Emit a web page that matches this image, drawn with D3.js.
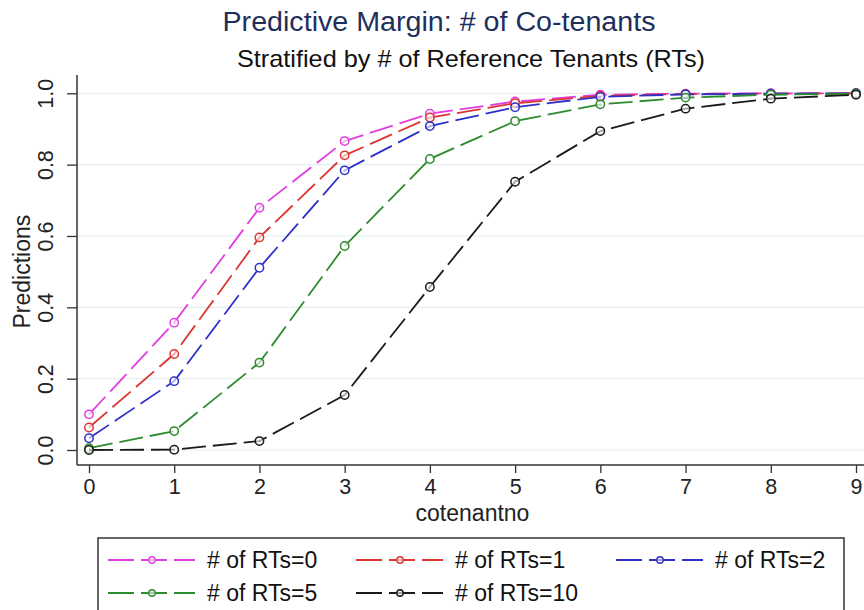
<!DOCTYPE html>
<html><head><meta charset="utf-8">
<script src="https://cdn.jsdelivr.net/npm/d3@7"></script>
<style>html,body{margin:0;padding:0;background:#fff;}svg{display:block;font-family:"Liberation Sans",Arial,sans-serif;}</style>
</head><body>
<script>
const xVals = [0,1,2,3,4,5,6,7,8,9];
const rt0  = [0.100,0.357,0.679,0.866,0.943,0.977,0.996,0.999,1.000,1.000];
const rt1  = [0.063,0.269,0.596,0.826,0.932,0.972,0.993,0.998,0.999,1.000];
const rt2  = [0.033,0.193,0.511,0.784,0.908,0.961,0.990,0.997,0.999,1.000];
const rt5  = [0.005,0.053,0.245,0.572,0.816,0.922,0.969,0.988,0.996,0.999];
const rt10 = [0.000,0.001,0.025,0.154,0.457,0.752,0.894,0.957,0.985,0.996];
const seriesNames = ["# of RTs=0","# of RTs=1","# of RTs=2","# of RTs=5","# of RTs=10"];
const seriesVals = [rt0, rt1, rt2, rt5, rt10];
const colors = ["#e03ee0","#dc3532","#2e30c8","#2e8b2e","#1a1a1a"];
const yTicks = [0,0.2,0.4,0.6,0.8,1.0];
const title = "Predictive Margin: # of Co-tenants";
const subtitle = "Stratified by # of Reference Tenants (RTs)";
const xTitle = "cotenantno";
const yTitle = "Predictions";

const W = 864, H = 610;
const svg = d3.select("body").append("svg").attr("width", W).attr("height", H);

const x = d3.scaleLinear().domain([0,9]).range([89,856]);
const y = d3.scaleLinear().domain([0,1]).range([450,93.3]);
const axisX = 77, axisY = 465, plotTop = 75;

// gridlines
svg.append("g").selectAll("line").data(yTicks).join("line")
  .attr("x1", axisX).attr("x2", W).attr("y1", d=>y(d)).attr("y2", d=>y(d))
  .attr("stroke", "#e4eeee").attr("stroke-width", 1.2);

// y axis
const gy = svg.append("g").attr("transform", `translate(${axisX},0)`)
  .call(d3.axisLeft(y).tickValues(yTicks).tickSize(10).tickFormat(d3.format(".1f")));
gy.select(".domain").remove();
gy.selectAll(".tick line").attr("stroke", "#333").attr("stroke-width", 1.3);
gy.selectAll(".tick text").attr("font-size", 21.5).attr("fill", "#222")
  .attr("font-family", "Liberation Sans, Arial, sans-serif")
  .attr("x", 0).attr("y", 0).attr("dy", null)
  .attr("text-anchor", "middle")
  .attr("dominant-baseline", "central")
  .attr("transform", `translate(${46-axisX},0) rotate(-90)`);
svg.append("line").attr("x1", axisX).attr("x2", axisX).attr("y1", plotTop).attr("y2", axisY)
  .attr("stroke", "#333").attr("stroke-width", 1.5);

// x axis
const gx = svg.append("g").attr("transform", `translate(0,${axisY})`)
  .call(d3.axisBottom(x).tickValues(xVals).tickSize(8).tickFormat(d3.format("d")));
gx.select(".domain").remove();
gx.selectAll(".tick line").attr("stroke", "#333").attr("stroke-width", 1.3);
gx.selectAll(".tick text").attr("font-size", 21.5).attr("fill", "#222")
  .attr("font-family", "Liberation Sans, Arial, sans-serif")
  .attr("y", 29).attr("dy", null);
svg.append("line").attr("x1", axisX).attr("x2", W).attr("y1", axisY).attr("y2", axisY)
  .attr("stroke", "#333").attr("stroke-width", 1.5);

// axis titles
svg.append("text").attr("x", (x(0)+x(9))/2).attr("y", 521).attr("text-anchor","middle")
  .attr("font-size", 23).attr("fill","#222").text(xTitle);
svg.append("text").attr("transform", `translate(30,${(y(0)+y(1))/2}) rotate(-90)`)
  .attr("text-anchor","middle").attr("font-size", 23).attr("fill","#222").text(yTitle);

// titles
svg.append("text").attr("x", 439).attr("y", 31).attr("text-anchor","middle")
  .attr("font-size", 27).attr("fill","#1e2f5c")
  .attr("textLength", 433).attr("lengthAdjust","spacingAndGlyphs").text(title);
svg.append("text").attr("x", 471).attr("y", 67).attr("text-anchor","middle")
  .attr("font-size", 24).attr("fill","#111")
  .attr("textLength", 468).attr("lengthAdjust","spacingAndGlyphs").text(subtitle);

// series
const line = d3.line().x((d,i)=>x(xVals[i])).y(d=>y(d));
seriesVals.forEach((vals, si) => {
  const g = svg.append("g");
  g.append("path").datum(vals).attr("d", line).attr("fill","none")
    .attr("stroke", colors[si]).attr("stroke-width", 1.8)
    .attr("stroke-dasharray", "24,7");
  g.selectAll("circle").data(vals).join("circle")
    .attr("cx", (d,i)=>x(xVals[i])).attr("cy", d=>y(d)).attr("r", 4.2)
    .attr("fill", "#fff").attr("fill-opacity", 0.6)
    .attr("stroke", colors[si]).attr("stroke-width", 1.5);
});

// legend
svg.append("rect").attr("x", 98).attr("y", 538).attr("width", 746).attr("height", 90)
  .attr("fill","#fff").attr("stroke","#333").attr("stroke-width", 1.5);
const legCols = [108, 356, 616];
const legRows = [560, 593];
seriesNames.forEach((name, i) => {
  const cx = legCols[i % 3], cy = legRows[Math.floor(i / 3)];
  const g = svg.append("g");
  g.append("line").attr("x1", cx).attr("x2", cx+87).attr("y1", cy).attr("y2", cy)
    .attr("stroke", colors[i]).attr("stroke-width", 1.8).attr("stroke-dasharray","26,7");
  g.append("circle").attr("cx", cx+44).attr("cy", cy).attr("r", 3.2)
    .attr("fill","#fff").attr("fill-opacity",0.6).attr("stroke", colors[i]).attr("stroke-width", 1.4);
  g.append("text").attr("x", cx+99).attr("y", cy+8).attr("font-size", 23).attr("fill","#111").text(name);
});
</script>
</body></html>
